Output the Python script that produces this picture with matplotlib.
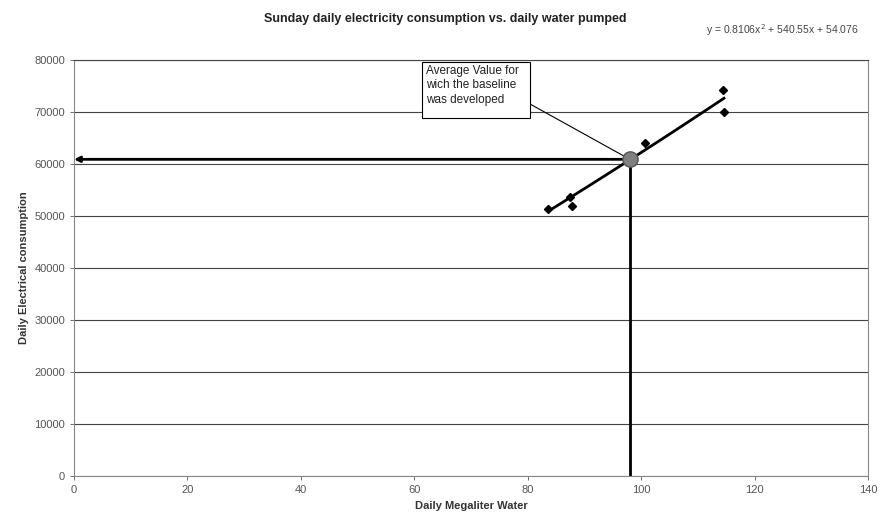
import numpy as np
import matplotlib.pyplot as plt
from matplotlib.patches import Rectangle

plt.rcParams['font.family'] = ['Liberation Sans', 'DejaVu Sans']

# measured points (daily megaliter water, daily electrical consumption)
water = [83.6, 87.5, 87.8, 100.7, 114.5, 114.6]
elec = [51300, 53700, 51900, 64100, 74200, 70000]

# average value used for the baseline
avg_water = 98.0
avg_elec = 60900

# trendline coefficients as shown on the chart
coef = [0.8106, 540.55, 54.076]
trend_x = np.linspace(83.6, 114.6, 50)
trend_y = np.polyval(coef, trend_x)

fig = plt.figure(figsize=(8.81, 5.21), dpi=100)
ax = fig.add_axes([0.084, 0.0864, 0.9013, 0.7984])

ax.set_xlim(0, 140)
ax.set_ylim(0, 80000)
ax.set_xticks(range(0, 141, 20))
ax.set_yticks(range(0, 80001, 10000))
ax.yaxis.grid(True, color='#444444', lw=0.8)
ax.set_axisbelow(True)
for s in ax.spines.values():
    s.set_color('#888888')
    s.set_linewidth(0.8)
ax.spines['top'].set_color('#444444')
ax.tick_params(labelsize=8, colors='#555555', length=3, width=0.6)

ax.plot(trend_x, trend_y, color='black', lw=2)
ax.plot(water, elec, 'D', color='black', ms=4)

# lines from the average point to the axes
ax.plot([avg_water, avg_water], [avg_elec, 0], color='black', lw=2)
ax.annotate('', xy=(0, avg_elec), xytext=(avg_water, avg_elec),
            arrowprops=dict(arrowstyle='-|>', color='black', lw=2,
                            mutation_scale=8, shrinkA=0, shrinkB=0))
ax.plot(avg_water, avg_elec, 'o', color='#808080', mec='#555555', ms=11, zorder=5)

# callout box
ax.add_patch(Rectangle((61.4, 68850), 19.0, 10750, fc='white', ec='black', lw=0.8, zorder=4))
ax.text(62.0, 79000, 'Average Value for\nwich the baseline\nwas developed',
        ha='left', va='top', fontsize=8.5, linespacing=1.25, color='#222222', zorder=5)
ax.annotate('', xy=(avg_water, avg_elec), xytext=(80.4, 71540),
            arrowprops=dict(arrowstyle='-', color='black', lw=0.8,
                            shrinkA=0, shrinkB=0))

ax.set_xlabel('Daily Megaliter Water', fontsize=8, fontweight='bold', color='#333333')
ax.set_ylabel('Daily Electrical consumption', fontsize=8, fontweight='bold', color='#333333')

fig.text(0.505, 0.963, 'Sunday daily electricity consumption vs. daily water pumped',
         ha='center', va='center', fontsize=9, fontweight='bold', color='#222222')
fig.text(0.888, 0.942, 'y = 0.8106x$^2$ + 540.55x + 54.076',
         ha='center', va='center', fontsize=7.5, color='#444444')

fig.savefig('out.png', dpi=100)
